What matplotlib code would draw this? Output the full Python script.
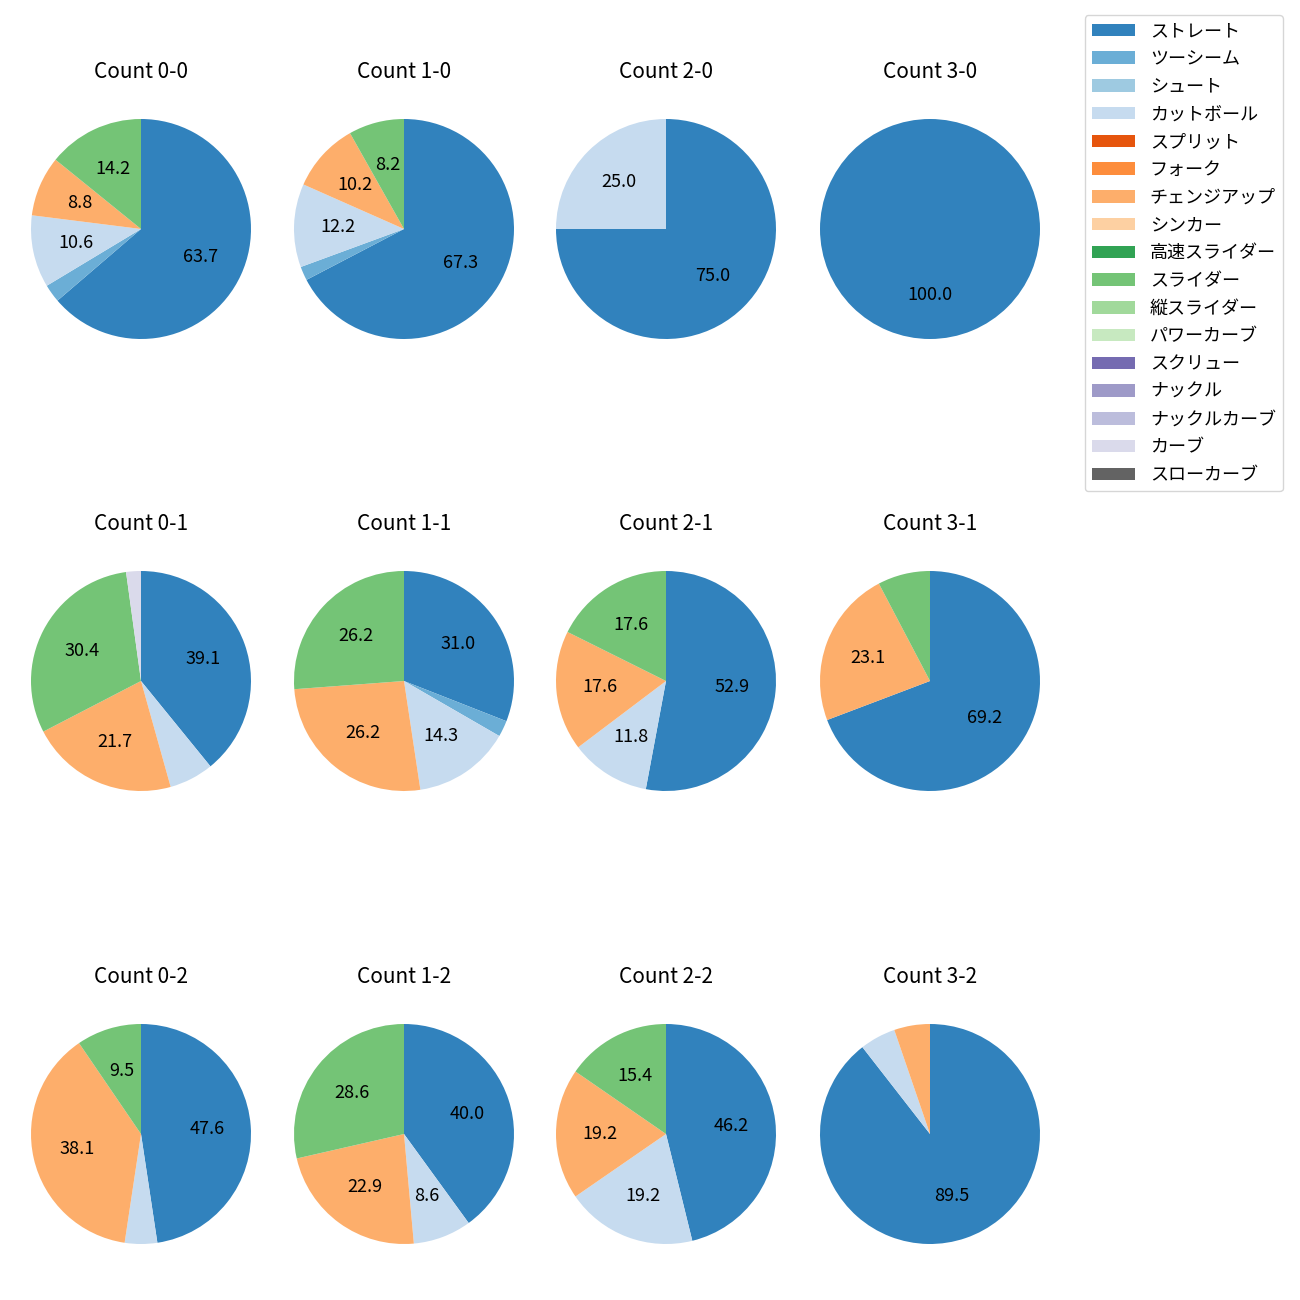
import matplotlib
matplotlib.use('Agg')
import matplotlib.pyplot as plt
from matplotlib.patches import Patch

plt.rcParams['font.family'] = ['Noto Sans CJK JP', 'DejaVu Sans']

pitchTypes = ['ストレート', 'ツーシーム', 'シュート', 'カットボール', 'スプリット', 'フォーク',
              'チェンジアップ', 'シンカー', '高速スライダー', 'スライダー', '縦スライダー',
              'パワーカーブ', 'スクリュー', 'ナックル', 'ナックルカーブ', 'カーブ', 'スローカーブ']
pitchColors = ['#3182bd', '#6baed6', '#9ecae1', '#c6dbef', '#e6550d', '#fd8d3c',
               '#fdae6b', '#fdd0a2', '#31a354', '#74c476', '#a1d99b',
               '#c7e9c0', '#756bb1', '#9e9ac8', '#bcbddc', '#dadaeb', '#636363']

# pitch counts per ball-strike count (only nonzero types)
count_0_0 = {'ストレート': 72, 'ツーシーム': 3, 'カットボール': 12, 'チェンジアップ': 10, 'スライダー': 16}
count_1_0 = {'ストレート': 33, 'ツーシーム': 1, 'カットボール': 6, 'チェンジアップ': 5, 'スライダー': 4}
count_2_0 = {'ストレート': 3, 'カットボール': 1}
count_3_0 = {'ストレート': 1}
count_0_1 = {'ストレート': 18, 'カットボール': 3, 'チェンジアップ': 10, 'スライダー': 14, 'カーブ': 1}
count_1_1 = {'ストレート': 13, 'ツーシーム': 1, 'カットボール': 6, 'チェンジアップ': 11, 'スライダー': 11}
count_2_1 = {'ストレート': 9, 'カットボール': 2, 'チェンジアップ': 3, 'スライダー': 3}
count_3_1 = {'ストレート': 9, 'チェンジアップ': 3, 'スライダー': 1}
count_0_2 = {'ストレート': 10, 'カットボール': 1, 'チェンジアップ': 8, 'スライダー': 2}
count_1_2 = {'ストレート': 14, 'カットボール': 3, 'チェンジアップ': 8, 'スライダー': 10}
count_2_2 = {'ストレート': 12, 'カットボール': 5, 'チェンジアップ': 5, 'スライダー': 4}
count_3_2 = {'ストレート': 17, 'カットボール': 1, 'チェンジアップ': 1}

grid = [[('0-0', count_0_0), ('1-0', count_1_0), ('2-0', count_2_0), ('3-0', count_3_0)],
        [('0-1', count_0_1), ('1-1', count_1_1), ('2-1', count_2_1), ('3-1', count_3_1)],
        [('0-2', count_0_2), ('1-2', count_1_2), ('2-2', count_2_2), ('3-2', count_3_2)]]

colorMap = dict(zip(pitchTypes, pitchColors))

fig = plt.figure(figsize=(13, 13), dpi=100)

xCenters = [141, 404, 666, 930]
yCenters = [229, 681, 1134]
size = 275

def autoLabel(pct):
    if pct >= 8:
        return '%.1f' % pct
    return ''

for r, row in enumerate(grid):
    for c, (name, counts) in enumerate(row):
        left = (xCenters[c] - size / 2) / 1300
        bottom = 1 - (yCenters[r] + size / 2) / 1300
        ax = fig.add_axes([left, bottom, size / 1300, size / 1300])
        labels = [p for p in pitchTypes if p in counts]
        vals = [counts[p] for p in labels]
        ax.pie(vals, colors=[colorMap[p] for p in labels], startangle=90,
               counterclock=False, autopct=autoLabel,
               textprops={'fontsize': 13})
        ax.set_title('Count %s' % name, fontsize=15, pad=10)

handles = [Patch(facecolor=col) for col in pitchColors]
fig.legend(handles, pitchTypes, loc='upper right', bbox_to_anchor=(1283 / 1300, 1 - 15 / 1300),
           borderaxespad=0, fontsize=13, labelspacing=0.54, handlelength=2.4)

fig.savefig('out.png', dpi=100)
